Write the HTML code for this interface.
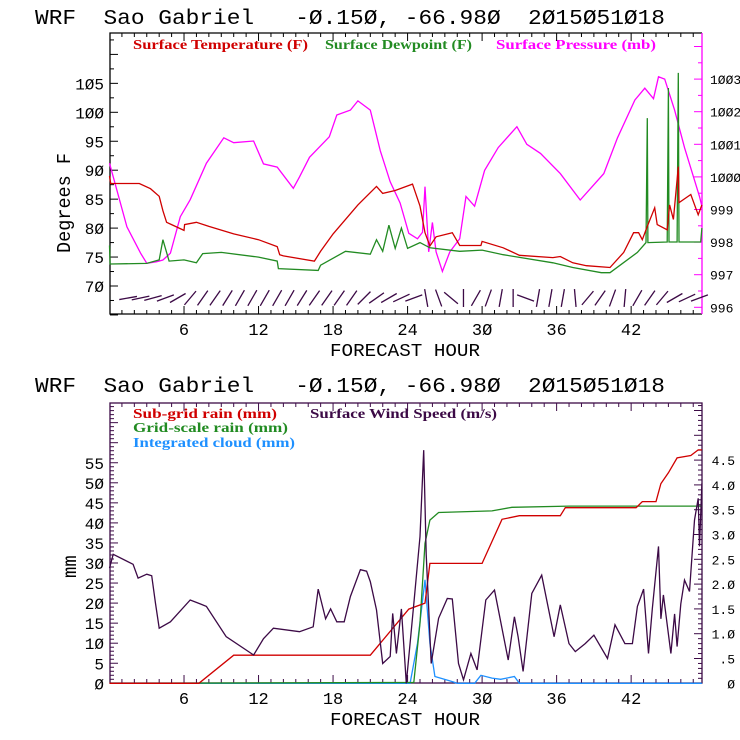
<!DOCTYPE html>
<html><head><meta charset="utf-8"><style>
html,body{margin:0;padding:0;background:#fff;}
svg{display:block;}
text{font-family:"Liberation Mono",monospace;white-space:pre;}
.leg{font-family:"Liberation Serif",serif;font-size:14px;font-weight:bold;}
</style></head><body>
<svg id="chart" width="740" height="740" viewBox="0 0 740 740" xmlns="http://www.w3.org/2000/svg" xml:space="preserve">
<text x="35" y="24" font-size="21" textLength="630" lengthAdjust="spacingAndGlyphs" xml:space="preserve">WRF  Sao Gabriel   -Ø.15Ø, -66.98Ø  2Ø15Ø51Ø18</text>
<text x="35" y="392" font-size="21" textLength="630" lengthAdjust="spacingAndGlyphs" xml:space="preserve">WRF  Sao Gabriel   -Ø.15Ø, -66.98Ø  2Ø15Ø51Ø18</text>
<text class="leg" x="133" y="49" fill="#d00000" textLength="175" lengthAdjust="spacingAndGlyphs">Surface Temperature (F)</text>
<text class="leg" x="325" y="49" fill="#228b22" textLength="147" lengthAdjust="spacingAndGlyphs">Surface Dewpoint (F)</text>
<text class="leg" x="496" y="49" fill="#ff00ff" textLength="160" lengthAdjust="spacingAndGlyphs">Surface Pressure (mb)</text>
<text class="leg" x="133" y="418" fill="#d00000" textLength="144" lengthAdjust="spacingAndGlyphs">Sub-grid rain (mm)</text>
<text class="leg" x="310" y="418" fill="#3c0a46" textLength="187" lengthAdjust="spacingAndGlyphs">Surface Wind Speed (m/s)</text>
<text class="leg" x="133" y="432" fill="#228b22" textLength="155" lengthAdjust="spacingAndGlyphs">Grid-scale rain (mm)</text>
<text class="leg" x="133" y="447" fill="#1e90ff" textLength="162" lengthAdjust="spacingAndGlyphs">Integrated cloud (mm)</text>
<text x="52" y="235" font-size="19" transform="rotate(-90 70 235)" textLength="100" lengthAdjust="spacingAndGlyphs">Degrees F</text>
<text x="58" y="560" font-size="19" transform="rotate(-90 76 560)">mm</text>
<text x="330" y="356" font-size="18" textLength="150" lengthAdjust="spacingAndGlyphs">FORECAST HOUR</text>
<text x="330" y="725" font-size="18" textLength="150" lengthAdjust="spacingAndGlyphs">FORECAST HOUR</text>
<g id="g"></g>
</svg>
<script>
// ---- data: top panel ----
const tempH=[0,0.1,2.4,3.3,4,4.3,4.6,5,6,6.05,7,8,10,12,13.5,13.7,14,16.5,17,18,20,21.5,22,23,24.4,25,25.4,25.8,26.3,27.6,28.2,29.9,30,31.7,33,35.7,36.3,37.3,38.4,40.3,41.4,42.2,42.6,42.9,43.3,43.9,44.1,44.9,45.1,45.4,45.8,45.85,46.8,47.4,47.7];
const tempV=[89,87.7,87.7,86.8,85.5,83,81,80.6,79.6,80.6,81,80.3,79,78,76.8,75.4,75.2,74.3,76,79,84,87.2,86,86.5,87.6,83.8,79.2,76.9,78.5,79.2,77,77,77.7,76.6,75.3,74.9,75.1,74,73.5,73.2,75.8,79.2,79.2,78,80.3,83.5,80.6,79.7,84,81.5,90.6,84.4,85.8,82.3,84];
const dewH=[0,0.05,0.1,3,4,4.3,4.8,6,7,7.5,9,12,13.5,13.6,16.8,17,19,21,21.5,22,22.5,23,23.5,24,25,25.8,28.2,30,31.7,35.7,37.3,39.6,40.3,42.5,43.2,43.3,43.35,44.9,45,45.05,45.7,45.8,45.85,47.6,47.7];
const dewV=[77,73.8,73.8,73.9,74.5,78,74.3,74.5,74,75.6,75.8,75,74.3,73,72.7,73.6,76,75.5,78,76,80.5,76.5,80,76.5,77.5,76.6,76,76.2,75.4,74,73.2,72.3,72.3,75.8,77.5,99,77.5,77.6,104.2,77.6,77.6,106.8,77.6,77.6,80];
const presH=[0,1.4,2.5,3,3.8,4.3,4.9,5.7,6.5,7.8,9.2,10,11.6,12.4,13.5,14.8,15.3,16.1,17.7,18.3,19.4,20,21,21.8,22.6,23.4,24.1,24.8,25.2,25.4,25.7,26,26.3,26.8,27.4,28.2,28.7,29.4,30.2,31.3,32.8,33.6,34.7,36.3,37.9,39.8,40.9,42.3,43.1,43.8,44.2,44.7,45.5,46.3,47.1,47.5,47.7];
const presV=[1000.42,998.47,997.66,997.35,997.4,997.45,997.66,998.78,999.3,1000.42,1001.2,1001.05,1001.1,1000.4,1000.3,999.65,1000.0,1000.6,1001.23,1001.9,1002.05,1002.33,1002.05,1000.8,999.85,999.2,998.27,998.1,998.3,999.7,997.7,998.6,997.7,997.1,997.7,998.1,999.4,999.1,1000.2,1000.9,1001.54,1001.0,1000.72,1000.1,999.29,1000.1,1001.2,1002.36,1002.72,1002.4,1003.07,1003.0,1002.05,1000.9,999.9,999.4,999.1];
const barbAng=[10,12,15,20,30,50,55,55,58,60,60,60,60,60,58,55,55,55,55,45,35,30,25,20,100,110,-40,-90,60,70,80,90,-20,80,80,80,95,50,55,70,85,60,55,50,30,25,20];
// ---- data: bottom panel ----
const subH=[0,7.2,10,21,24.1,25.4,25.8,30,31.6,33,36.3,36.7,42.4,42.9,44,44.4,45,45.7,46.8,47.4,47.7];
const subV=[0,0,7,7,18.5,20,29.9,29.9,40.9,41.8,41.8,43.8,43.8,45.3,45.3,49.8,52.5,56.2,56.8,58.2,58.2];
const gridH=[0,24.5,25,25.4,25.8,26.5,30.8,32.4,37,47.7];
const gridV=[0,0.2,15,34.9,40.7,42.6,43,43.9,44.2,44.2];
const cloudH=[0,24.2,24.8,25.4,25.8,26.2,27.5,28,29.4,29.9,30.8,31.5,32.6,33,47.7];
const cloudV=[0,0,10,25.8,10,1.7,0.5,0,0,2,1.3,1,1.7,0,0];
const windH=[0,0.3,1.9,2.3,3,3.4,3.7,4,4.9,6.5,7.3,7.8,9.4,11.6,12.4,13.2,15.3,16.4,16.8,17.4,17.8,18.3,18.9,19.4,20.2,20.7,21,21.5,22,22.6,22.8,23.1,23.5,23.9,24.5,25,25.3,25.5,25.9,26.5,27.2,27.6,28.1,28.5,29.1,29.6,30.3,31,32.1,32.6,32.9,33.3,34,34.8,35.8,36.3,37,37.5,38.3,39,40.1,40.7,41.5,42.1,42.5,43,43.4,43.7,44.2,44.4,44.6,45.2,45.5,45.7,46,46.3,46.7,47.1,47.4,47.5,47.7];
const windV=[2.32,2.6,2.4,2.12,2.2,2.17,1.61,1.11,1.24,1.68,1.6,1.55,0.94,0.57,0.9,1.11,1.04,1.14,1.9,1.3,1.5,1.24,1.24,1.75,2.29,2.26,2.05,1.48,0.4,0.54,1.41,0.6,1.5,0,1.6,2.96,4.7,2.6,0.4,1.31,1.71,1.7,0.4,0.07,0.6,0.27,1.68,1.88,0.47,1.34,0.94,0.24,1.81,2.18,0.94,1.58,0.8,0.64,0.8,0.97,0.5,1.18,0.8,0.8,1.55,1.9,0.6,1.5,2.76,1.3,1.78,0.6,1.4,0.74,1.6,2.08,1.85,3.29,3.73,2.76,4.03];
const xTicks=[6,12,18,24,30,36,42];
const tTicks=[70,75,80,85,90,95,100,105];
const pTicks=[996,997,998,999,1000,1001,1002,1003];
const mmTicks=[0,5,10,15,20,25,30,35,40,45,50,55];
const wsTicks=[0,0.5,1,1.5,2,2.5,3,3.5,4,4.5];
const wsLabels=["0",".5","1.0","1.5","2.0","2.5","3.0","3.5","4.0","4.5"];

const NS="http://www.w3.org/2000/svg";
const G=document.getElementById('g');
const L=110,R=702,T1=33,B1=314,T2=403,B2=683;
const X=h=>109.5+h*12.42;
const yT=v=>286-(v-70)*5.79;
const yP=v=>307.3-(v-996)*32.6;
const yM=v=>683.3-v*4.01;
const yW=v=>683.3-v*49.6;
function el(tag,at,parent){const e=document.createElementNS(NS,tag);for(const k in at)e.setAttribute(k,at[k]);(parent||G).appendChild(e);return e;}
function line(x1,y1,x2,y2,c,w){return el('line',{x1,y1,x2,y2,stroke:c,'stroke-width':w||1});}
function txt(x,y,s,size,anchor,c){const t=el('text',{x,y,'font-size':size,'text-anchor':anchor||'start',fill:c||'#000'});t.textContent=s;return t;}
function series(H,V,fy,c,name){
  const d=H.map((h,i)=>(i?'L':'M')+X(h).toFixed(1)+' '+fy(V[i]).toFixed(1)).join(' ');
  const p=el('path',{d,fill:'none',stroke:c,'stroke-width':1.3});
  
  
}
const f1=el('path',{d:`M${R} ${T1} L${L} ${T1} L${L} ${B1} L${R} ${B1}`,fill:'none',stroke:'#000','stroke-width':1.3});


const r1=line(R,T1,R,B1,'#ff00ff',1.3);


const f2=el('rect',{x:L,y:T2,width:R-L,height:B2-T2,fill:'none',stroke:'#3c0a46','stroke-width':1.3});


for(let h=1;h<48;h++){
  const big=h%6===0, len=big?8:4;
  line(X(h),B1,X(h),B1-len,'#000');line(X(h),T1,X(h),T1+len,'#000');
  line(X(h),B2,X(h),B2-len,'#3c0a46');line(X(h),T2,X(h),T2+len,'#3c0a46');
}
xTicks.forEach(h=>{txt(X(h),335,String(h).replace(/0/g,'Ø'),17,'middle');txt(X(h),704,String(h).replace(/0/g,'Ø'),17,'middle');});
for(let v=65;v<=113.5;v+=2.5){const big=v%5===0;line(L,yT(v),L+(big?8:4),yT(v),'#000');}
tTicks.forEach(v=>txt(104,yT(v)+6,String(v).replace(/0/g,'Ø'),16,'end'));
for(let v=995.5;v<=1004;v+=0.5){const y=yP(v);if(y<T1||y>B1)continue;const big=v%1===0;line(R,y,R-(big?8:4),y,'#ff00ff');}
pTicks.forEach(v=>txt(710,yP(v)+5,String(v).replace(/0/g,'Ø'),13,'start'));
for(let v=0;v<=69;v++){const y=yM(v);if(y<T2)break;line(L,y,L+(v%5===0?8:4),y,'#3c0a46');}
mmTicks.forEach(v=>txt(104,yM(v)+6,String(v).replace(/0/g,'Ø'),16,'end'));
for(let v=0;v<=5.6;v+=0.1){const y=yW(v);if(y<T2)break;const big=Math.abs(v*2-Math.round(v*2))<0.01;line(R,y,R-(big?8:4),y,'#3c0a46');}
wsTicks.forEach((v,i)=>txt(735,yW(v)+5,wsLabels[i].replace(/0/g,'Ø'),13,'end'));
series(presH,presV,yP,'#ff00ff','pressure-line');
series(dewH,dewV,yT,'#228b22','dewpoint-line');
series(tempH,tempV,yT,'#d00000','temperature-line');
barbAng.forEach((a,i)=>{
  const cx=X(i+1.5),cy=298,r=a*Math.PI/180,l=9;
  const b=line(cx-l*Math.cos(r),cy+l*Math.sin(r),cx+l*Math.cos(r),cy-l*Math.sin(r),'#3c0a46',1.3);
  
  
});
series(cloudH,cloudV,yM,'#1e90ff','cloud-line');
series(gridH,gridV,yM,'#228b22','gridscale-rain-line');
series(subH,subV,yM,'#d00000','subgrid-rain-line');
series(windH,windV,yW,'#3c0a46','wind-speed-line');
</script>
</body></html>
